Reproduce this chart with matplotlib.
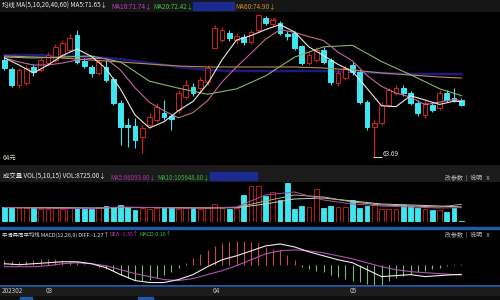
import matplotlib
matplotlib.use('Agg')
import matplotlib.pyplot as plt
from matplotlib.patches import Rectangle
import numpy as np

plt.rcParams['font.family'] = ['Noto Sans CJK SC', 'DejaVu Sans']

# ---------------- data ----------------
opens = [77.46, 76.18, 73.91, 74.20, 76.47, 76.04, 77.04, 77.46, 78.17, 78.88,
         81.01, 77.32, 76.47, 75.62, 76.47, 74.76, 71.36, 68.23, 68.09, 66.53,
         68.23, 68.94, 69.94, 69.51, 70.36, 72.21, 73.63, 73.49, 74.34, 79.17,
         80.30, 81.30, 80.30, 80.73, 80.02, 81.72, 83.43, 82.57, 82.71, 81.15,
         81.30, 79.45, 77.04, 77.46, 78.88, 77.46, 74.20, 74.90, 76.75, 75.76,
         71.50, 67.95, 68.52, 71.07, 72.78, 73.49, 72.78, 71.36, 69.65, 71.07,
         70.65, 72.78, 72.07, 71.78]
highs = [78.03, 76.47, 76.33, 76.75, 76.89, 77.75, 78.60, 79.73, 80.30, 81.15,
         81.72, 77.75, 76.75, 77.46, 77.46, 75.05, 71.78, 69.23, 69.23, 68.23,
         69.94, 71.36, 71.78, 69.79, 73.20, 74.62, 74.20, 75.05, 76.75, 82.43,
         82.14, 81.72, 81.30, 81.15, 81.72, 84.00, 83.71, 83.43, 83.00, 81.58,
         81.58, 79.59, 78.60, 79.31, 79.31, 77.75, 76.04, 76.75, 77.18, 76.04,
         71.78, 68.94, 71.50, 73.49, 73.91, 73.91, 73.06, 71.78, 71.78, 71.50,
         73.20, 73.20, 73.49, 72.07]
lows = [76.04, 73.63, 73.49, 73.91, 75.19, 75.76, 76.75, 77.18, 77.75, 78.60,
        76.89, 76.33, 75.05, 75.33, 74.34, 71.07, 65.39, 65.11, 64.97, 64.26,
        67.81, 68.66, 68.94, 67.52, 69.94, 71.92, 72.35, 72.92, 73.91, 79.59,
        80.02, 80.16, 79.73, 79.59, 79.73, 81.44, 82.43, 82.29, 81.01, 80.30,
        78.88, 76.75, 76.75, 77.18, 76.89, 73.91, 73.77, 74.62, 75.33, 71.22,
        67.52, 63.69, 68.23, 70.79, 72.49, 72.35, 71.07, 69.51, 69.23, 70.08,
        70.36, 71.50, 71.50, 70.93]
closes = [76.33, 73.91, 76.04, 76.33, 75.76, 77.46, 78.17, 79.31, 79.88, 80.59,
          77.18, 76.61, 75.62, 77.18, 74.62, 71.36, 67.95, 67.95, 66.10, 67.81,
          69.37, 70.79, 69.37, 69.09, 72.78, 73.91, 72.78, 74.62, 76.33, 82.00,
          81.72, 80.59, 80.87, 80.02, 81.44, 83.85, 82.71, 83.14, 81.30, 80.87,
          79.17, 77.04, 78.17, 78.88, 77.18, 74.34, 75.62, 76.33, 75.76, 71.50,
          67.95, 68.52, 71.07, 73.20, 73.49, 72.78, 71.36, 69.94, 71.36, 70.36,
          72.78, 71.78, 71.78, 71.07]

ma_fast_idx = list(range(0, 64, 2)) + [63]
ma5 = [77.75, 76.75, 75.62, 76.75, 78.11, 79.02, 77.97, 76.24, 73.34, 69.65,
       67.81, 68.69, 70.28, 71.58, 74.08, 77.49, 80.30, 80.93, 81.78, 82.49,
       81.44, 79.31, 78.09, 76.84, 75.84, 73.43, 70.96, 70.84, 72.38, 71.78,
       71.16, 71.61, 71.55]
ma10 = [77.75, 77.18, 76.75, 76.75, 77.04, 77.46, 77.69, 77.66, 76.03, 73.51,
        71.45, 70.25, 69.25, 69.99, 71.68, 74.34, 76.47, 78.43, 80.41, 81.76,
        81.39, 80.77, 80.23, 78.57, 77.33, 75.27, 73.71, 72.77, 72.19, 71.11,
        71.48, 71.88, 71.67]
ma_slow_idx = list(range(0, 64, 4)) + [63]
ma20 = [77.89, 77.75, 77.89, 78.03, 77.18, 74.45, 73.46, 72.60, 73.36, 75.20,
        77.87, 79.33, 79.55, 77.24, 75.38, 73.38, 72.41]
ma40 = [78.17, 78.17, 78.03, 77.89, 77.60, 77.04, 76.47, 76.04, 75.90, 75.90,
        75.90, 75.90, 75.76, 75.62, 75.47, 75.47, 75.47]
ma60 = [78.03, 77.89, 77.75, 77.46, 77.18, 76.89, 76.61, 76.47, 76.47, 76.47,
        76.47, 76.33, 76.04, 75.62, 75.33, 75.05, 74.90]

volumes = [90000, 90000, 84000, 84000, 84000, 78000, 78000, 84000, 78000, 84000,
           84000, 78000, 78000, 84000, 99000, 90000, 102000, 90000, 72000, 84000,
           78000, 84000, 84000, 90000, 78000, 84000, 84000, 78000, 84000, 108000,
           84000, 78000, 84000, 162000, 216000, 216000, 159000, 180000, 130200, 234000,
           78000, 94200, 90000, 198000, 84000, 94200, 90000, 90000, 132000, 84000,
           94200, 108000, 78000, 78000, 78000, 100200, 94200, 85800, 78000, 73800,
           72000, 60000, 84000, 8725]
vol_ma5 = [87000, 84000, 81000, 81000, 90000, 87000, 84000, 84000, 90000, 162000,
           180000, 132000, 108000, 96000, 90000, 84000, 86094]
vol_ma10 = [87000, 85800, 84000, 82200, 87000, 87000, 85200, 84000, 87000, 126000,
            162000, 150000, 120000, 102000, 96000, 90000, 105649]
vol_ma15 = [87000, 85800, 85200, 84000, 85800, 87000, 85800, 85200, 85800, 108000,
            138000, 144000, 126000, 108000, 102000, 96000, 90000]

diff = [0.13, 0.00, 0.13, 0.26, 0.39, 0.39, 0.13, -0.39, -1.30, -2.08,
        -2.34, -2.34, -1.95, -1.30, -0.26, 0.65, 1.17, 1.82, 2.47, 2.73,
        2.34, 1.69, 1.17, 0.65, 0.26, -0.65, -1.56, -1.43, -1.30, -1.56,
        -1.43, -1.30, -1.27]
dea = [-0.26, -0.26, -0.26, -0.13, 0.13, 0.26, 0.13, -0.13, -0.65, -1.17,
       -1.56, -1.95, -2.08, -1.82, -1.30, -0.78, -0.13, 0.65, 1.43, 1.82,
       1.95, 1.82, 1.56, 1.17, 0.78, 0.26, -0.26, -0.65, -0.91, -1.04,
       -1.17, -1.30, -1.35]
macd_hist = [0.6, 0.5, 0.4, 0.5, 0.6, 0.7, 0.8, 0.8, 0.6, 0.5,
             0.3, 0.1, -0.1, -0.3, -0.5, -0.8, -1.3, -1.7, -2.0, -2.1,
             -2.0, -1.7, -1.3, -0.9, -0.4, 0.2, 0.9, 1.4, 2.0, 2.5,
             2.8, 3.0, 3.1, 3.1, 3.0, 2.8, 2.3, 2.1, 1.9, 1.3,
             0.6, -0.3, -0.5, -0.8, -1.0, -1.4, -1.6, -1.9, -2.1, -2.3,
             -2.5, -2.7, -2.6, -2.2, -1.7, -1.5, -1.2, -1.0, -0.8, -0.6,
             -0.4, -0.2, 0.1, 0.16]

date_labels = ["202302", "03", "04", "05"]
date_idx = [0, 6, 29, 48]

# ---------------- styling ----------------
UP = '#d42020'
DOWN = '#3fe6f0'
W, H = 500, 300
XLIM = (-0.62, 68.34)
FS = 4.6

fig = plt.figure(figsize=(5, 3), dpi=100, facecolor='black')


def add_ax(x0, y0, x1, y1, z=1):
    ax = fig.add_axes([x0 / W, 1 - y1 / H, (x1 - x0) / W, (y1 - y0) / H])
    ax.set_facecolor('black')
    ax.set_xlim(*XLIM)
    ax.set_zorder(z)
    for s in ax.spines.values():
        s.set_visible(False)
    ax.set_xticks([])
    ax.set_yticks([])
    return ax


# background / bands in pixel coordinates
bg = fig.add_axes([0, 0, 1, 1])
bg.set_xlim(0, W)
bg.set_ylim(H, 0)
bg.axis('off')
bg.set_zorder(0)
bg.add_patch(Rectangle((0, 0), 500, 12, color='#161616'))
bg.add_patch(Rectangle((193, 2), 41, 8, color='#1a2a8e'))
bg.add_patch(Rectangle((0, 165), 500, 17, color='#1b1b1b'))
bg.add_patch(Rectangle((210, 171.5), 47, 8.5, color='#1a2a8e'))
bg.add_patch(Rectangle((0, 226.5), 500, 2.5, color='#2358aa'))
bg.add_patch(Rectangle((0, 284.5), 500, 2, color='#2358aa'))
bg.add_patch(Rectangle((0, 286.5), 500, 9.5, color='#1c1c1c'))
bg.add_patch(Rectangle((0, 296), 500, 4, color='#0e0e0e'))
bg.add_patch(Rectangle((20, 297), 12, 3, color='#2358aa'))
bg.add_patch(Rectangle((138, 297), 15, 3, color='#2358aa'))

# header texts
bg.text(2, 6, "均线 MA(5,10,20,40,60) MA5:71.65↓", color='#e6e6e6', fontsize=FS, va='center')
bg.text(111, 6, "MA10:71.74↓", color='#c23cc2', fontsize=FS, va='center')
bg.text(153, 6, "MA20:72.42↓", color='#3cc43c', fontsize=FS, va='center')
bg.text(235, 6, "MA60:74.90↓", color='#d88a2c', fontsize=FS, va='center')

bg.text(3, 177, "成交量 VOL(5,10,15) VOL:8725.00↓", color='#e6e6e6', fontsize=FS, va='center')
bg.text(110, 177, "MA5:86093.80↓", color='#a834a8', fontsize=FS - 0.2, va='center')
bg.text(157, 177, "MA10:105648.80↓", color='#3cb43c', fontsize=FS - 0.2, va='center')
bg.text(445, 178, "改参数  |  说明   X", color='#bdbdbd', fontsize=FS - 0.3, va='center')

bg.text(2, 235, "平滑异同平均线 MACD(12,26,9) DIFF:-1.27↑", color='#e6e6e6', fontsize=3.9, va='center')
bg.text(109, 235, "DEA:-1.35↑", color='#c23cc2', fontsize=3.9, va='center')
bg.text(139, 235, "MACD:0.16↑", color='#3cc43c', fontsize=3.9, va='center')
bg.text(445, 235, "改参数  |  说明   X", color='#bdbdbd', fontsize=FS - 0.3, va='center')

# ---------------- price panel ----------------
ax = add_ax(0, 12, 500, 165, z=2)
ax.set_ylim(62.55, 84.28)
idx = np.arange(len(closes))
for i in idx:
    o, h, l, c = opens[i], highs[i], lows[i], closes[i]
    up = c >= o
    col = UP if up else DOWN
    ax.vlines(i, l, h, color=col, lw=0.8, zorder=2)
    bot = min(o, c)
    ht = max(abs(c - o), 0.08)
    ax.bar(i, ht, bottom=bot, width=0.68,
           facecolor='black' if up else DOWN, edgecolor=col, lw=0.7, zorder=3)

ax.plot(ma_slow_idx, ma40, color='#1c1c80', lw=1.8, zorder=1)
ax.plot(ma_slow_idx, ma60, color='#c48a55', lw=0.8, zorder=4)
ax.plot(ma_slow_idx, ma20, color='#8cb46a', lw=0.8, zorder=4)
ax.plot(ma_fast_idx, ma10, color='#c4689a', lw=0.8, zorder=4)
ax.plot(ma_fast_idx, ma5, color='#e8e8e0', lw=0.8, zorder=4)

lo_i = int(np.argmin(lows))
ax.hlines(lows[lo_i], lo_i - 0.2, lo_i + 1.0, color='#e0e0e0', lw=0.7, zorder=5)
ax.text(lo_i + 1.2, lows[lo_i] + 0.45, f"{lows[lo_i]:.2f}", color='#e6e6e6',
        fontsize=FS, va='center', zorder=5)
hi_i = int(np.argmax(highs))
ax.text(hi_i + 1.4, highs[hi_i] - 0.95, "8.5", color='#e03030', fontsize=FS,
        va='center', zorder=2.5)
ax.text(3 / 500, 7 / 153, "64元", color='#e8e0c0', fontsize=FS,
        transform=ax.transAxes, va='center')

# ---------------- volume panel ----------------
vax = add_ax(0, 182, 500, 222, z=2)
vax.set_ylim(0, 240000)
for i in idx:
    up = closes[i] >= opens[i]
    col = UP if up else DOWN
    vax.bar(i, volumes[i], width=0.68, facecolor='black' if up else DOWN,
            edgecolor=col, lw=0.6, zorder=2)
vax.plot(ma_slow_idx, vol_ma15, color='#c8c8c8', lw=0.7, zorder=3)
vax.plot(ma_slow_idx, vol_ma10, color='#a8b868', lw=0.7, zorder=3)
vax.plot(ma_slow_idx, vol_ma5, color='#b050b0', lw=0.7, zorder=3)

# ---------------- MACD panel ----------------
max_ = add_ax(0, 240, 500, 284.5, z=2)
max_.set_ylim(-2.6, 3.25)
hist_cols = ['#c84848' if v >= 0 else '#78b878' for v in macd_hist]
max_.vlines(idx, 0, macd_hist, colors=hist_cols, lw=0.8, zorder=2)
max_.plot(ma_fast_idx, dea, color='#b050b0', lw=0.8, zorder=3)
max_.plot(ma_fast_idx, diff, color='#ececec', lw=0.8, zorder=3)

# ---------------- date strip ----------------
dax = add_ax(0, 286.5, 500, 296, z=2)
dax.set_facecolor('#1c1c1c')
dax.set_ylim(0, 1)
for lab, di in zip(date_labels, date_idx):
    dax.text(di - 0.35, 0.5, lab, color='#c8c8c8', fontsize=FS, va='center', ha='left')

fig.savefig('out.png', dpi=100, facecolor='black')
